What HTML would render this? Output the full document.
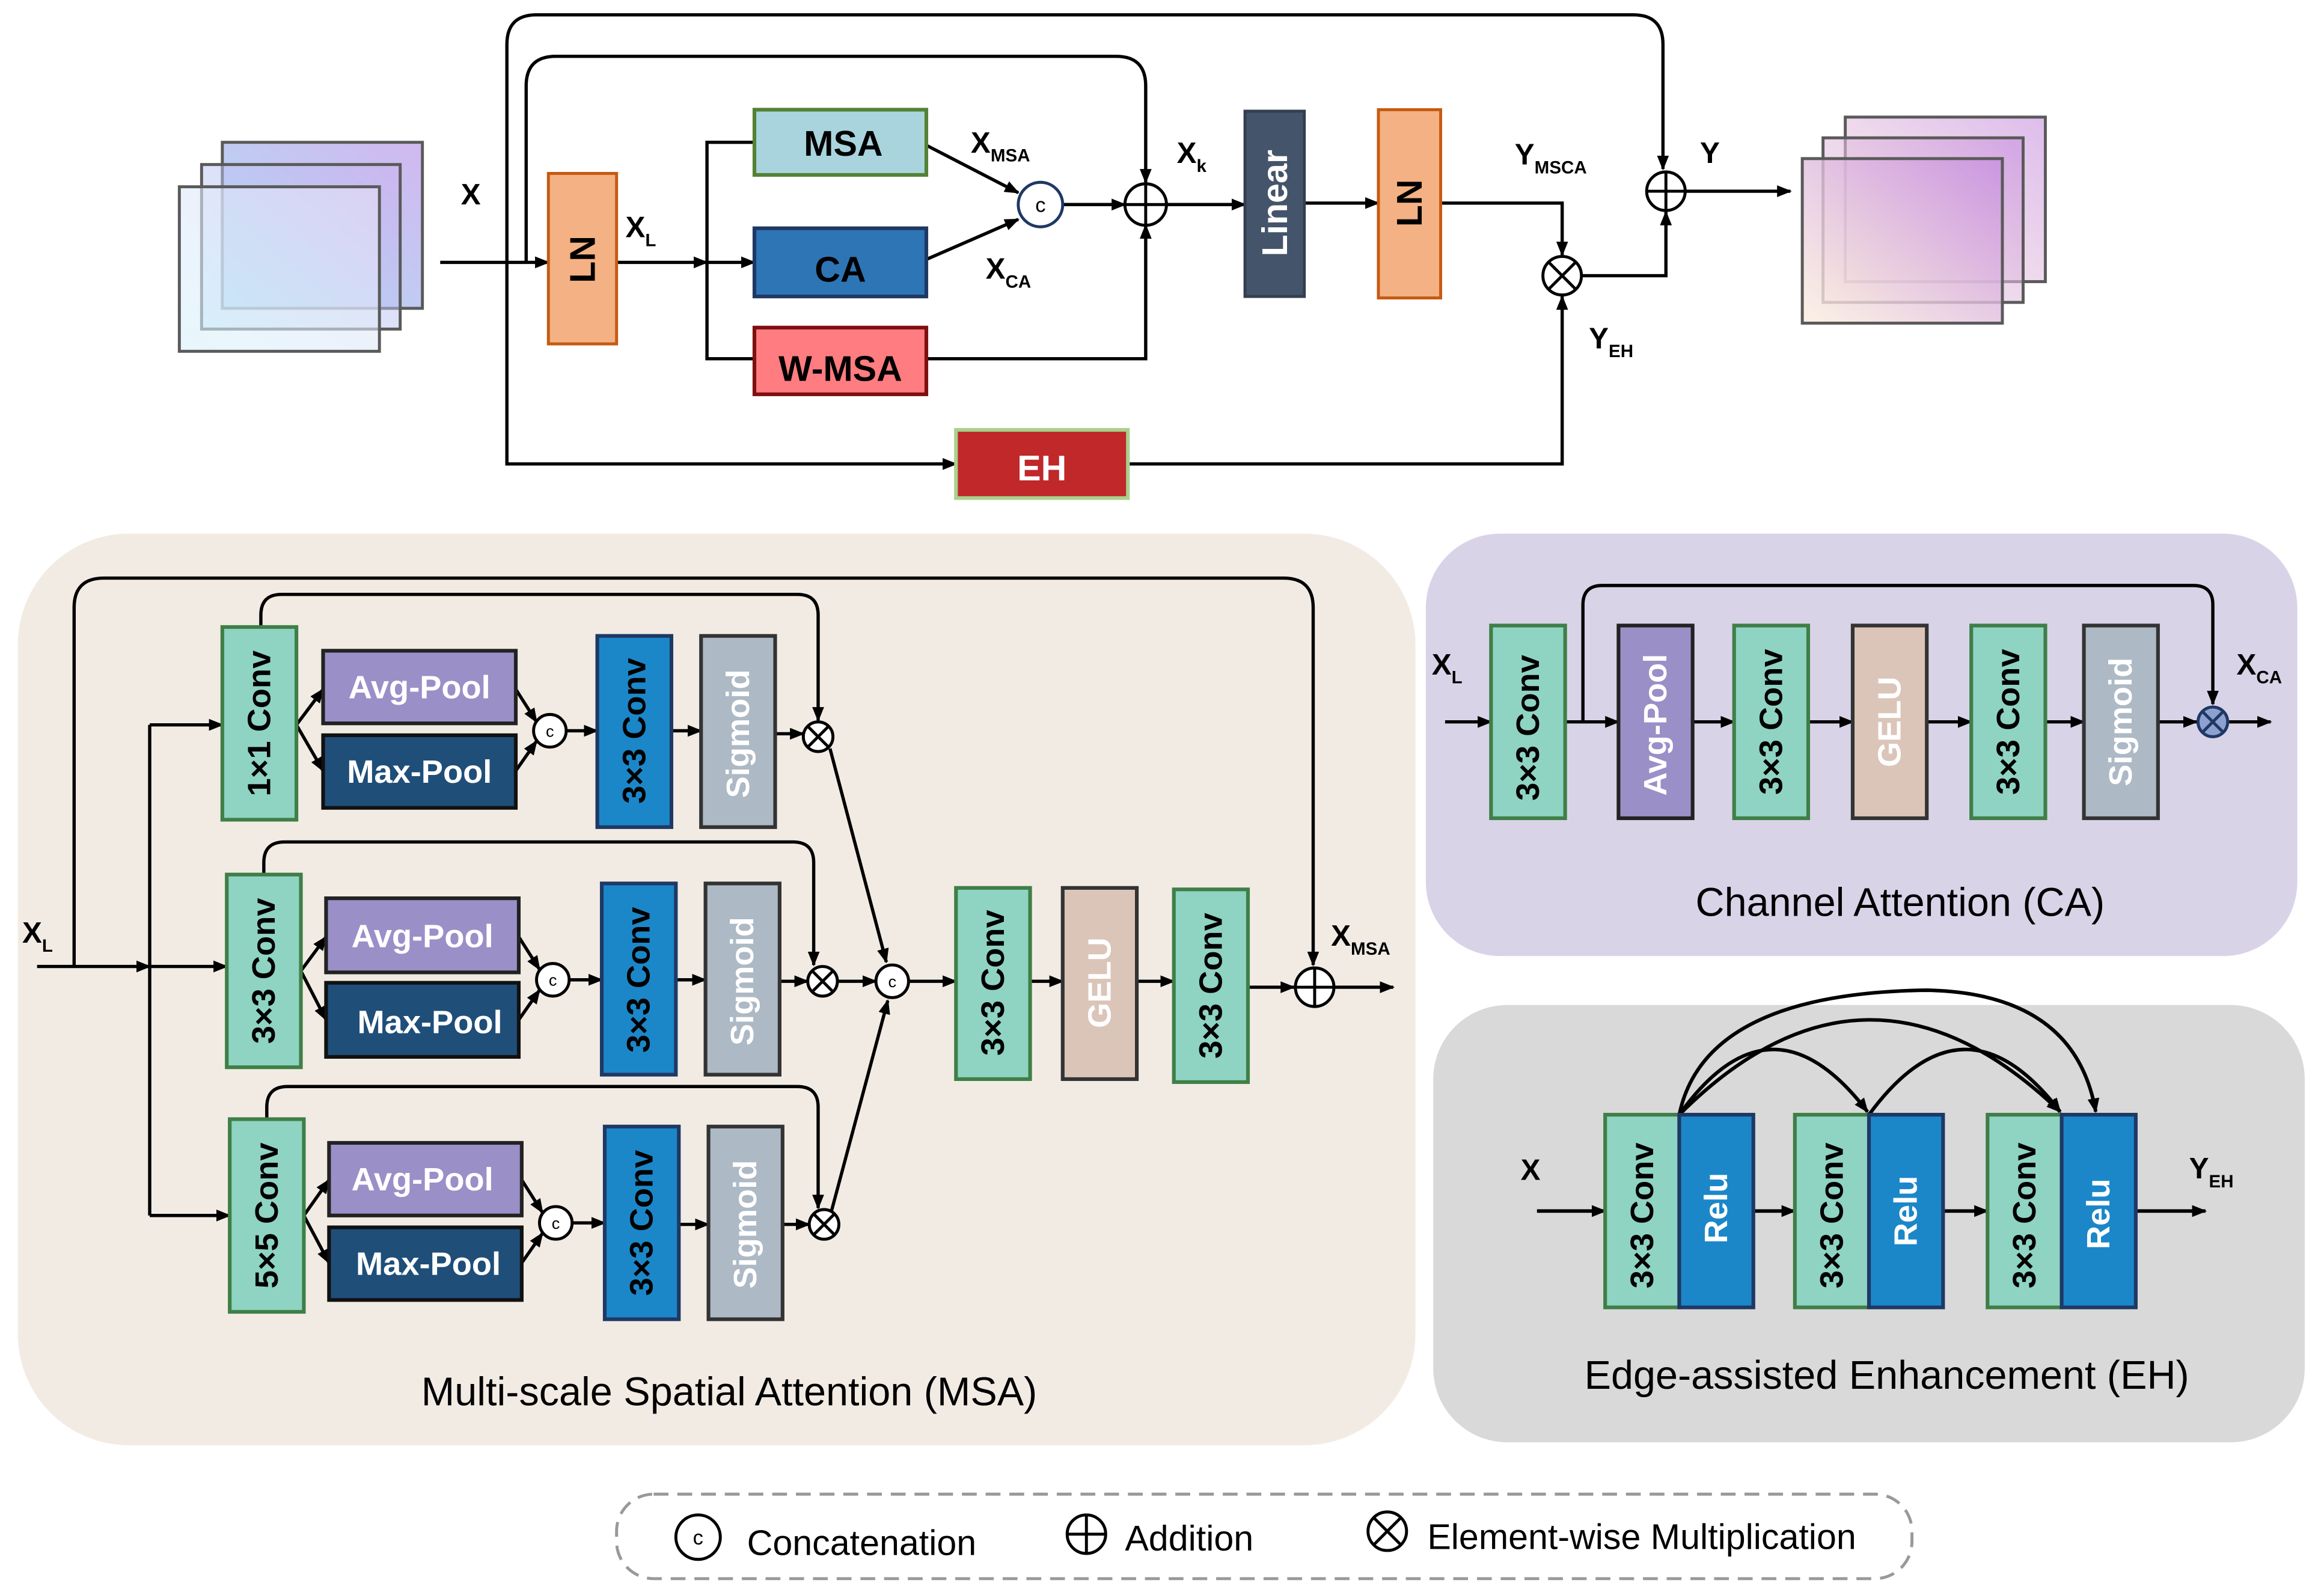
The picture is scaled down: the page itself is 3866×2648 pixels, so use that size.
<!DOCTYPE html>
<html><head><meta charset="utf-8"><style>
html,body{margin:0;padding:0;background:#fff;}
svg{display:block;}
text{font-family:"Liberation Sans",Arial,sans-serif;}
.b{font-weight:bold;font-size:22px;}
.t{font-weight:bold;font-size:24px;}
.l{font-weight:bold;font-size:20px;}
.s{font-weight:bold;font-size:12px;}
.cap{font-size:24px;}
.cap2{font-size:27px;}
</style></head><body>
<svg width="3866" height="2648" viewBox="0 0 1568 1074" xmlns="http://www.w3.org/2000/svg">
<defs>
<marker id="a" markerWidth="10" markerHeight="10" refX="9" refY="5" orient="auto" markerUnits="userSpaceOnUse"><path d="M0,1 L10,5 L0,9 Z" fill="#000"/></marker>
<linearGradient id="g1" x1="0" y1="1" x2="1" y2="0"><stop offset="0" stop-color="#d8f2fb"/><stop offset="1" stop-color="#e8e0f6"/></linearGradient>
<linearGradient id="g2" x1="0" y1="1" x2="1" y2="0"><stop offset="0" stop-color="#a8daf4"/><stop offset="1" stop-color="#ccb0ee"/></linearGradient>
<linearGradient id="g3" x1="0" y1="1" x2="1" y2="0"><stop offset="0" stop-color="#fbeedd"/><stop offset="1" stop-color="#c890e0"/></linearGradient>
</defs>
<g fill="none" stroke="#000" stroke-width="2.2">
<rect x="150" y="96" width="135" height="112" fill="url(#g2)" stroke="#5a5a5a" stroke-width="2" fill-opacity="0.9"/>
<rect x="136" y="111" width="134" height="111" fill="url(#g2)" stroke="#5a5a5a" stroke-width="2" fill-opacity="0.5"/>
<rect x="121" y="126" width="135" height="111" fill="url(#g1)" stroke="#5a5a5a" stroke-width="2" fill-opacity="0.6"/>
<rect x="1245" y="79" width="135" height="111" fill="url(#g3)" stroke="#5a5a5a" stroke-width="2" fill-opacity="0.6"/>
<rect x="1230" y="93" width="135" height="111" fill="url(#g3)" stroke="#5a5a5a" stroke-width="2" fill-opacity="0.6"/>
<rect x="1216" y="107" width="135" height="111" fill="url(#g3)" stroke="#5a5a5a" stroke-width="2" fill-opacity="0.8"/>

<path d="M297,177 H370" marker-end="url(#a)"/>
<path d="M342,177 V30 Q342,10 362,10 H1102 Q1122,10 1122,30 V114" marker-end="url(#a)"/>
<path d="M355,177 V58 Q355,38 375,38 H753 Q773,38 773,58 V123" marker-end="url(#a)"/>
<path d="M342,177 V313 H645" marker-end="url(#a)"/>
<path d="M416,177 H477" marker-end="url(#a)"/>
<path d="M509,96 H477 V242 H509"/>
<path d="M477,177 H509" marker-end="url(#a)"/>
<path d="M625,98 L687,130" marker-end="url(#a)"/>
<path d="M625,175 L687,148" marker-end="url(#a)"/>
<path d="M717,138 H759" marker-end="url(#a)"/>
<path d="M625,242 H773 V152" marker-end="url(#a)"/>
<path d="M787,138 H840" marker-end="url(#a)"/>
<path d="M880,137 H930" marker-end="url(#a)"/>
<path d="M972,137 H1054 V172" marker-end="url(#a)"/>
<path d="M761,313 H1054 V200" marker-end="url(#a)"/>
<path d="M1067,186 H1124 V143" marker-end="url(#a)"/>
<path d="M1136,129 H1208" marker-end="url(#a)"/>
</g>
<rect x="370" y="117" width="46" height="115" fill="#f4b183" stroke="#c55a11" stroke-width="2"/>
<text class="t" transform="translate(393,175) rotate(-90)" text-anchor="middle" dominant-baseline="central">LN</text>
<rect x="509" y="74" width="116" height="44" fill="#a9d4de" stroke="#548235" stroke-width="2.5"/>
<text class="t" x="569" y="105" text-anchor="middle">MSA</text>
<rect x="509" y="154" width="116" height="46" fill="#2e75b6" stroke="#1f3864" stroke-width="2.5"/>
<text class="t" x="567" y="190" text-anchor="middle">CA</text>
<rect x="509" y="221" width="116" height="45" fill="#ff7c80" stroke="#7f1010" stroke-width="2.5"/>
<text class="t" x="567" y="257" text-anchor="middle">W-MSA</text>
<rect x="645" y="290" width="116" height="46" fill="#c0282a" stroke="#a9d18e" stroke-width="2.5"/>
<text class="t" x="703" y="324" text-anchor="middle" fill="#fff">EH</text>
<rect x="840" y="75" width="40" height="125" fill="#44546a" stroke="#333f50" stroke-width="2"/>
<text class="t" transform="translate(860,137) rotate(-90)" text-anchor="middle" dominant-baseline="central" fill="#fff">Linear</text>
<rect x="930" y="74" width="42" height="127" fill="#f4b183" stroke="#c55a11" stroke-width="2"/>
<text class="t" transform="translate(951,137) rotate(-90)" text-anchor="middle" dominant-baseline="central">LN</text>
<g fill="#fff" stroke="#000" stroke-width="2">
<circle cx="702" cy="138" r="15" stroke="#1f3864"/>
<circle cx="773" cy="138" r="14"/><path d="M759,138 H787 M773,124 V152"/>
<circle cx="1054" cy="186" r="13"/><path d="M1045,177 L1063,195 M1063,177 L1045,195"/>
<circle cx="1124" cy="129" r="13"/><path d="M1111,129 H1137 M1124,116 V142"/>
</g>
<text x="702" y="143" font-size="14" text-anchor="middle">c</text>
<g class="l">
<text x="311" y="138">X</text>
<text x="422" y="160">X<tspan class="s" dy="6">L</tspan></text>
<text x="655" y="103">X<tspan class="s" dy="6">MSA</tspan></text>
<text x="665" y="188">X<tspan class="s" dy="6">CA</tspan></text>
<text x="794" y="110">X<tspan class="s" dy="6">k</tspan></text>
<text x="1022" y="111">Y<tspan class="s" dy="6">MSCA</tspan></text>
<text x="1072" y="235">Y<tspan class="s" dy="6">EH</tspan></text>
<text x="1147" y="110">Y</text>
</g>

<rect x="12" y="360" width="943" height="615" rx="75" fill="#f2ebe4"/>
<g fill="none" stroke="#000" stroke-width="2.2">
<path d="M25,652 H101" marker-end="url(#a)"/>
<path d="M50,652 V410 Q50,390 70,390 H866 Q886,390 886,410 V651" marker-end="url(#a)"/>
<path d="M101,489 V820"/>
<path d="M101,489 H150" marker-end="url(#a)"/>
<path d="M101,652 H153" marker-end="url(#a)"/>
<path d="M101,820 H155" marker-end="url(#a)"/>
<path d="M176,423 V415 Q176,401 190,401 H538 Q552,401 552,415 V486" marker-end="url(#a)"/>
<path d="M200,489 L218,465" marker-end="url(#a)"/><path d="M200,489 L218,520" marker-end="url(#a)"/>
<path d="M348,465 L362,487" marker-end="url(#a)"/><path d="M348,520 L362,500" marker-end="url(#a)"/>
<path d="M382,493 H403" marker-end="url(#a)"/><path d="M453,493 H473" marker-end="url(#a)"/><path d="M523,495 H542" marker-end="url(#a)"/>
<path d="M178,590 V582 Q178,568 192,568 H535 Q549,568 549,582 V651" marker-end="url(#a)"/>
<path d="M203,655 L220,632" marker-end="url(#a)"/><path d="M203,655 L220,688" marker-end="url(#a)"/>
<path d="M350,632 L364,654" marker-end="url(#a)"/><path d="M350,688 L364,668" marker-end="url(#a)"/>
<path d="M384,661 H406" marker-end="url(#a)"/><path d="M456,661 H476" marker-end="url(#a)"/><path d="M526,662 H545" marker-end="url(#a)"/>
<path d="M180,755 V747 Q180,733 194,733 H538 Q552,733 552,747 V815" marker-end="url(#a)"/>
<path d="M205,820 L222,796" marker-end="url(#a)"/><path d="M205,820 L222,852" marker-end="url(#a)"/>
<path d="M352,796 L366,818" marker-end="url(#a)"/><path d="M352,852 L366,832" marker-end="url(#a)"/>
<path d="M386,825 H408" marker-end="url(#a)"/><path d="M458,826 H478" marker-end="url(#a)"/><path d="M528,826 H546" marker-end="url(#a)"/>
<path d="M560,505 L598,649" marker-end="url(#a)"/>
<path d="M565,662 H591" marker-end="url(#a)"/>
<path d="M561,817 L599,675" marker-end="url(#a)"/>
<path d="M613,662 H645" marker-end="url(#a)"/>
<path d="M695,662 H717" marker-end="url(#a)"/>
<path d="M767,662 H792" marker-end="url(#a)"/>
<path d="M842,666 H873" marker-end="url(#a)"/>
<path d="M900,666 H940" marker-end="url(#a)"/>
</g>
<g stroke-width="2.5">
<rect x="150" y="423" width="50" height="130" fill="#8fd3c3" stroke="#3f7f47"/>
<rect x="153" y="590" width="50" height="130" fill="#8fd3c3" stroke="#3f7f47"/>
<rect x="155" y="755" width="50" height="130" fill="#8fd3c3" stroke="#3f7f47"/>
<rect x="218" y="439" width="130" height="49" fill="#9b8fc8" stroke="#222"/>
<rect x="218" y="496" width="130" height="49" fill="#1f4e79" stroke="#111"/>
<rect x="220" y="606" width="130" height="50" fill="#9b8fc8" stroke="#222"/>
<rect x="220" y="663" width="130" height="50" fill="#1f4e79" stroke="#111"/>
<rect x="222" y="771" width="130" height="49" fill="#9b8fc8" stroke="#222"/>
<rect x="222" y="828" width="130" height="49" fill="#1f4e79" stroke="#111"/>
<rect x="403" y="429" width="50" height="129" fill="#1b87c9" stroke="#1f3864"/>
<rect x="406" y="596" width="50" height="129" fill="#1b87c9" stroke="#1f3864"/>
<rect x="408" y="760" width="50" height="130" fill="#1b87c9" stroke="#1f3864"/>
<rect x="473" y="429" width="50" height="129" fill="#adb9c5" stroke="#333"/>
<rect x="476" y="596" width="50" height="129" fill="#adb9c5" stroke="#333"/>
<rect x="478" y="760" width="50" height="130" fill="#adb9c5" stroke="#333"/>
<rect x="645" y="599" width="50" height="129" fill="#8fd3c3" stroke="#3f7f47"/>
<rect x="717" y="599" width="50" height="129" fill="#dbc5b8" stroke="#333"/>
<rect x="792" y="600" width="50" height="130" fill="#8fd3c3" stroke="#3f7f47"/>
</g>
<g class="b">
<text transform="translate(175,488) rotate(-90)" text-anchor="middle" dominant-baseline="central">1×1 Conv</text>
<text transform="translate(178,655) rotate(-90)" text-anchor="middle" dominant-baseline="central">3×3 Conv</text>
<text transform="translate(180,820) rotate(-90)" text-anchor="middle" dominant-baseline="central">5×5 Conv</text>
<text x="283" y="471" text-anchor="middle" fill="#fff">Avg-Pool</text>
<text x="283" y="528" text-anchor="middle" fill="#fff">Max-Pool</text>
<text x="285" y="639" text-anchor="middle" fill="#fff">Avg-Pool</text>
<text x="290" y="697" text-anchor="middle" fill="#fff">Max-Pool</text>
<text x="285" y="803" text-anchor="middle" fill="#fff">Avg-Pool</text>
<text x="289" y="860" text-anchor="middle" fill="#fff">Max-Pool</text>
<text transform="translate(428,493) rotate(-90)" text-anchor="middle" dominant-baseline="central">3×3 Conv</text>
<text transform="translate(431,661) rotate(-90)" text-anchor="middle" dominant-baseline="central">3×3 Conv</text>
<text transform="translate(433,825) rotate(-90)" text-anchor="middle" dominant-baseline="central">3×3 Conv</text>
<text transform="translate(498,495) rotate(-90)" text-anchor="middle" dominant-baseline="central" fill="#fff">Sigmoid</text>
<text transform="translate(501,662) rotate(-90)" text-anchor="middle" dominant-baseline="central" fill="#fff">Sigmoid</text>
<text transform="translate(503,826) rotate(-90)" text-anchor="middle" dominant-baseline="central" fill="#fff">Sigmoid</text>
<text transform="translate(670,663) rotate(-90)" text-anchor="middle" dominant-baseline="central">3×3 Conv</text>
<text transform="translate(742,663) rotate(-90)" text-anchor="middle" dominant-baseline="central" fill="#fff">GELU</text>
<text transform="translate(817,665) rotate(-90)" text-anchor="middle" dominant-baseline="central">3×3 Conv</text>
</g>
<g fill="#fff" stroke="#000" stroke-width="2">
<circle cx="371" cy="493" r="11"/><circle cx="373" cy="661" r="11"/><circle cx="375" cy="825" r="11"/><circle cx="602" cy="662" r="11"/>
<circle cx="552" cy="497" r="10"/><path d="M545,490 L559,504 M559,490 L545,504"/>
<circle cx="555" cy="662" r="10"/><path d="M548,655 L562,669 M562,655 L548,669"/>
<circle cx="556" cy="826" r="10"/><path d="M549,819 L563,833 M563,819 L549,833"/>
<circle cx="887" cy="666" r="13"/><path d="M874,666 H900 M887,653 V679"/>
</g>
<g font-size="11" text-anchor="middle"><text x="371" y="497">c</text><text x="373" y="665">c</text><text x="375" y="829">c</text><text x="602" y="666">c</text></g>
<text class="l" x="15" y="636">X<tspan class="s" dy="6">L</tspan></text>
<text class="l" x="898" y="638">X<tspan class="s" dy="6">MSA</tspan></text>
<text class="cap2" x="492" y="948" text-anchor="middle">Multi-scale Spatial Attention (MSA)</text>

<rect x="962" y="360" width="588" height="285" rx="50" fill="#d9d3e8"/>
<g fill="none" stroke="#000" stroke-width="2.2">
<path d="M975,487 H1006" marker-end="url(#a)"/>
<path d="M1056,487 H1092" marker-end="url(#a)"/>
<path d="M1068,487 V408 Q1068,395 1081,395 H1480 Q1493,395 1493,408 V475" marker-end="url(#a)"/>
<path d="M1142,487 H1170" marker-end="url(#a)"/>
<path d="M1220,487 H1250" marker-end="url(#a)"/>
<path d="M1300,487 H1330" marker-end="url(#a)"/>
<path d="M1380,487 H1406" marker-end="url(#a)"/>
<path d="M1456,487 H1482" marker-end="url(#a)"/>
<path d="M1504,487 H1532" marker-end="url(#a)"/>
</g>
<g stroke-width="2.5">
<rect x="1006" y="422" width="50" height="130" fill="#8fd3c3" stroke="#3f7f47"/>
<rect x="1092" y="422" width="50" height="130" fill="#9b8fc8" stroke="#222"/>
<rect x="1170" y="422" width="50" height="130" fill="#8fd3c3" stroke="#3f7f47"/>
<rect x="1250" y="422" width="50" height="130" fill="#dbc5b8" stroke="#333"/>
<rect x="1330" y="422" width="50" height="130" fill="#8fd3c3" stroke="#3f7f47"/>
<rect x="1406" y="422" width="50" height="130" fill="#adb9c5" stroke="#333"/>
</g>
<g class="b">
<text transform="translate(1031,491) rotate(-90)" text-anchor="middle" dominant-baseline="central">3×3 Conv</text>
<text transform="translate(1117,489) rotate(-90)" text-anchor="middle" dominant-baseline="central" fill="#fff">Avg-Pool</text>
<text transform="translate(1195,487) rotate(-90)" text-anchor="middle" dominant-baseline="central">3×3 Conv</text>
<text transform="translate(1275,487) rotate(-90)" text-anchor="middle" dominant-baseline="central" fill="#fff">GELU</text>
<text transform="translate(1355,487) rotate(-90)" text-anchor="middle" dominant-baseline="central">3×3 Conv</text>
<text transform="translate(1431,487) rotate(-90)" text-anchor="middle" dominant-baseline="central" fill="#fff">Sigmoid</text>
</g>
<circle cx="1493" cy="487" r="10" fill="#8da0d0" stroke="#1f3864" stroke-width="2"/>
<path d="M1486,480 L1500,494 M1500,480 L1486,494" stroke="#1f3864" stroke-width="2"/>
<text class="l" x="966" y="455">X<tspan class="s" dy="6">L</tspan></text>
<text class="l" x="1509" y="455">X<tspan class="s" dy="6">CA</tspan></text>
<text class="cap2" x="1282" y="618" text-anchor="middle">Channel Attention (CA)</text>

<rect x="967" y="678" width="588" height="295" rx="50" fill="#d9d9d9"/>
<g fill="none" stroke="#000" stroke-width="2.4">
<path d="M1037,817 H1083" marker-end="url(#a)"/>
<path d="M1183,817 H1211" marker-end="url(#a)"/>
<path d="M1311,817 H1341" marker-end="url(#a)"/>
<path d="M1441,817 H1488" marker-end="url(#a)"/>
<path d="M1133,752 Q1195,665 1260,750" marker-end="url(#a)"/>
<path d="M1133,752 Q1260,625 1390,750" marker-end="url(#a)"/>
<path d="M1133,752 Q1150,670 1300,668 Q1400,670 1414,750" marker-end="url(#a)"/>
<path d="M1261,752 Q1325,665 1390,750" marker-end="url(#a)"/>
</g>
<g stroke-width="2.5">
<rect x="1083" y="752" width="50" height="130" fill="#8fd3c3" stroke="#3f7f47"/>
<rect x="1133" y="752" width="50" height="130" fill="#1b87c9" stroke="#1f3864"/>
<rect x="1211" y="752" width="50" height="130" fill="#8fd3c3" stroke="#3f7f47"/>
<rect x="1261" y="752" width="50" height="130" fill="#1b87c9" stroke="#1f3864"/>
<rect x="1341" y="752" width="50" height="130" fill="#8fd3c3" stroke="#3f7f47"/>
<rect x="1391" y="752" width="50" height="130" fill="#1b87c9" stroke="#1f3864"/>
</g>
<g class="b">
<text transform="translate(1108,820) rotate(-90)" text-anchor="middle" dominant-baseline="central">3×3 Conv</text>
<text transform="translate(1158,815) rotate(-90)" text-anchor="middle" dominant-baseline="central" fill="#fff">Relu</text>
<text transform="translate(1236,820) rotate(-90)" text-anchor="middle" dominant-baseline="central">3×3 Conv</text>
<text transform="translate(1286,817) rotate(-90)" text-anchor="middle" dominant-baseline="central" fill="#fff">Relu</text>
<text transform="translate(1366,820) rotate(-90)" text-anchor="middle" dominant-baseline="central">3×3 Conv</text>
<text transform="translate(1416,819) rotate(-90)" text-anchor="middle" dominant-baseline="central" fill="#fff">Relu</text>
</g>
<text class="l" x="1026" y="796">X</text>
<text class="l" x="1477" y="795">Y<tspan class="s" dy="6">EH</tspan></text>
<text class="cap2" x="1273" y="937" text-anchor="middle">Edge-assisted Enhancement (EH)</text>

<rect x="416" y="1008" width="874" height="57" rx="25" fill="none" stroke="#999" stroke-width="2" stroke-dasharray="10,6"/>
<circle cx="471" cy="1037" r="15" fill="#fff" stroke="#000" stroke-width="2"/>
<text x="471" y="1042" font-size="14" text-anchor="middle">c</text>
<text class="cap" x="504" y="1049">Concatenation</text>
<circle cx="733" cy="1035" r="13" fill="#fff" stroke="#000" stroke-width="2"/>
<path d="M720,1035 H746 M733,1022 V1048" stroke="#000" stroke-width="2"/>
<text class="cap" x="759" y="1046">Addition</text>
<circle cx="936" cy="1033" r="13" fill="#fff" stroke="#000" stroke-width="2"/>
<path d="M927,1024 L945,1042 M945,1024 L927,1042" stroke="#000" stroke-width="2"/>
<text class="cap" x="963" y="1045">Element-wise Multiplication</text>
</svg>
</body></html>
